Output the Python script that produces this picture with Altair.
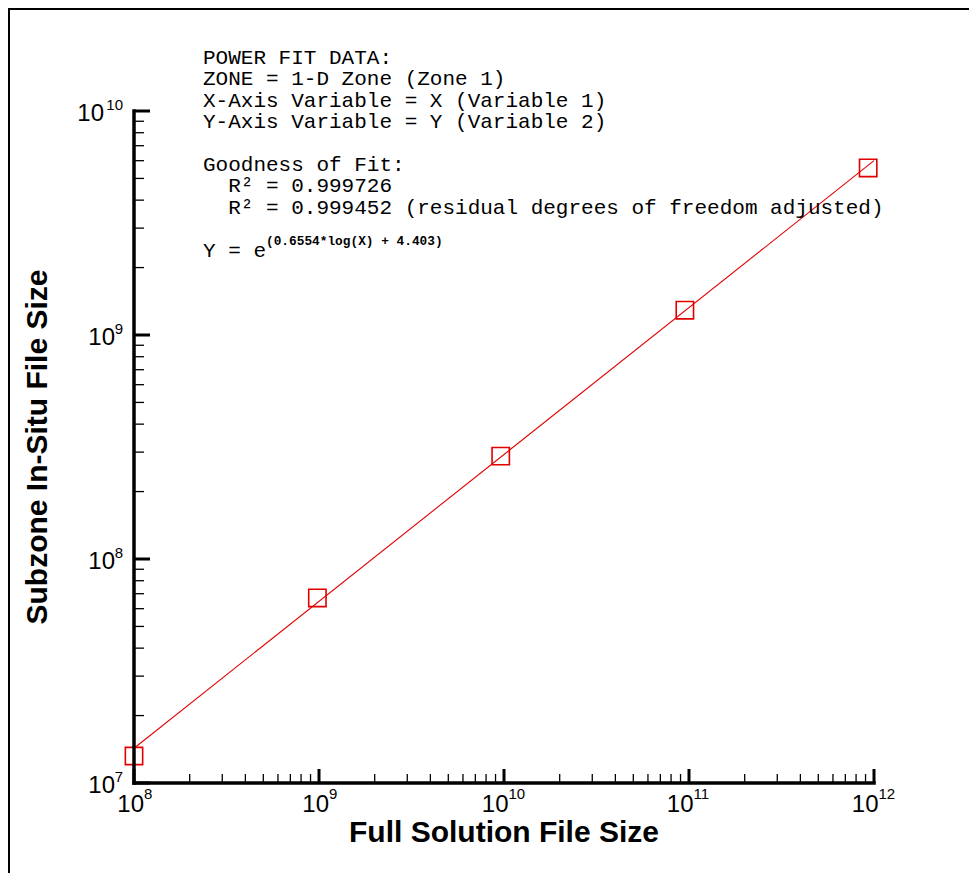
import altair as alt
import pandas as pd

# ---------------- data ----------------
full_size = [1.0e8, 9.8e8, 9.6e9, 9.5e10, 9.3e11]          # X (Full Solution File Size)
subzone_size = [1.32e7, 6.7e7, 2.88e8, 1.29e9, 5.57e9]      # Y (Subzone In-Situ File Size)

fit_x = [1.0e8, 1.0e12]      # power-fit line end points
fit_y = [1.43e7, 6.0e9]

x_major = [1e8, 1e9, 1e10, 1e11, 1e12]
x_exp = ["8", "9", "10", "11", "12"]
y_major = [1e7, 1e8, 1e9, 1e10]
y_exp = ["7", "8", "9", "10"]
minor_mult = [2, 3, 4, 5, 6, 7, 8, 9]
x_decades = [1e8, 1e9, 1e10, 1e11]
y_decades = [1e7, 1e8, 1e9]

header_lines = [
    "POWER FIT DATA:",
    "ZONE = 1-D Zone (Zone 1)",
    "X-Axis Variable = X (Variable 1)",
    "Y-Axis Variable = Y (Variable 2)",
]
goodness_title = "Goodness of Fit:"
r2_lines = [
    "R\u00b2 = 0.999726",
    "R\u00b2 = 0.999452 (residual degrees of freedom adjusted)",
]
equation_base = "Y = e"
fit_exponent = "(0.6554*log(X) + 4.403)"

x_title = "Full Solution File Size"
y_title = "Subzone In-Situ File Size"

# ---------------- layout ----------------
W, H = 740, 672
RED = "#e00000"
SANS = "Liberation Sans"
MONO = "Liberation Mono"
LH = 21.4          # annotation line height
CW = 12.6          # monospace char width at 21px
AX, AY = 69, -47   # annotation anchor (relative to plot origin)

xs = alt.Scale(type="log", domain=[1e8, 1e12], nice=False)
ys = alt.Scale(type="log", domain=[1e7, 1e10], nice=False)
X = alt.X("x:Q", scale=xs, axis=None)
Y = alt.Y("y:Q", scale=ys, axis=None)

pts = pd.DataFrame({"x": full_size, "y": subzone_size})
fit = pd.DataFrame({"x": fit_x, "y": fit_y})
one = pd.DataFrame({"a": [0]})

x_minor = [m * d for d in x_decades for m in minor_mult]
y_minor = [m * d for d in y_decades for m in minor_mult]

xlab = pd.DataFrame({"x": x_major, "exp": x_exp})
ylab = pd.DataFrame({"y": y_major, "exp": y_exp})
xlab1 = xlab[xlab.exp.str.len() == 1]
xlab2 = xlab[xlab.exp.str.len() == 2]
ylab1 = ylab[ylab.exp.str.len() == 1]
ylab2 = ylab[ylab.exp.str.len() == 2]

fit_line = alt.Chart(fit).mark_line(color=RED, strokeWidth=1.1).encode(x=X, y=Y)
squares = alt.Chart(pts).mark_point(
    shape="square", size=300, filled=False, color=RED, strokeWidth=1.6, opacity=1
).encode(x=X, y=Y)

# axis lines
x_axis = alt.Chart(one).mark_rule(color="black", strokeWidth=3.5, strokeCap="square").encode(
    x=alt.value(0), x2=alt.value(W), y=alt.value(H))
y_axis = alt.Chart(one).mark_rule(color="black", strokeWidth=3.5, strokeCap="square").encode(
    y=alt.value(0), y2=alt.value(H), x=alt.value(0))

# ticks (pointing inward)
xt_major = alt.Chart(pd.DataFrame({"x": x_major})).mark_rule(color="black", strokeWidth=3).encode(
    x=X, y=alt.value(H), y2=alt.value(H - 14))
xt_minor = alt.Chart(pd.DataFrame({"x": x_minor})).mark_rule(color="black", strokeWidth=1.3).encode(
    x=X, y=alt.value(H), y2=alt.value(H - 9))
yt_major = alt.Chart(pd.DataFrame({"y": y_major})).mark_rule(color="black", strokeWidth=3).encode(
    y=Y, x=alt.value(0), x2=alt.value(16))
yt_minor = alt.Chart(pd.DataFrame({"y": y_minor})).mark_rule(color="black", strokeWidth=1.3).encode(
    y=Y, x=alt.value(0), x2=alt.value(10))

# tick labels 10^n
def xlabels(df, dx):
    base = alt.Chart(df).mark_text(font=SANS, fontSize=24, align="right", baseline="alphabetic",
                                   dx=dx, color="black").encode(
        x=X, y=alt.value(H + 29), text=alt.value("10"))
    ex = alt.Chart(df).mark_text(font=SANS, fontSize=15, align="left", baseline="alphabetic",
                                 dx=dx, color="black").encode(
        x=X, y=alt.value(H + 16), text="exp:N")
    return [base, ex]

def ylabels(df, dx10):
    base = alt.Chart(df).mark_text(font=SANS, fontSize=24, align="right", baseline="alphabetic",
                                   dx=dx10, dy=10, color="black").encode(
        y=Y, x=alt.value(0), text=alt.value("10"))
    ex = alt.Chart(df).mark_text(font=SANS, fontSize=15, align="right", baseline="alphabetic",
                                 dx=-11, dy=-1, color="black").encode(
        y=Y, x=alt.value(0), text="exp:N")
    return [base, ex]

labels = xlabels(xlab1, 10) + xlabels(xlab2, 4.5) + ylabels(ylab1, -19) + ylabels(ylab2, -30)

# axis titles
xt = alt.Chart(one).mark_text(font=SANS, fontSize=30, fontWeight="bold", align="center",
                              baseline="alphabetic", color="black").encode(
    x=alt.value(W / 2), y=alt.value(H + 59), text=alt.value(x_title))
yt = alt.Chart(one).mark_text(font=SANS, fontSize=30, fontWeight="bold", align="center",
                              baseline="alphabetic", angle=270, color="black").encode(
    x=alt.value(-87), y=alt.value(H / 2), text=alt.value(y_title))

# annotation block
def ann_text(text, x, y):
    return alt.Chart(one).mark_text(font=MONO, fontSize=21, align="left", baseline="alphabetic",
                                    lineHeight=LH, color="black").encode(
        x=alt.value(x), y=alt.value(y), text=alt.value(text))

ann = [
    ann_text(header_lines, AX, AY),
    ann_text(goodness_title, AX, AY + 5 * LH),
    ann_text(r2_lines, AX + 2 * CW, AY + 6 * LH),
    ann_text(equation_base, AX, AY + 9 * LH),
]
ann_exp = alt.Chart(one).mark_text(font=MONO, fontSize=12.8, fontWeight="bold", align="left",
                                   baseline="alphabetic", color="black").encode(
    x=alt.value(AX + 5 * CW), y=alt.value(AY + 9 * LH - 12), text=alt.value(fit_exponent))

# frame (top & left edges)
frame_top = alt.Chart(one).mark_rule(color="black", strokeWidth=2).encode(
    x=alt.value(-126), x2=alt.value(W + 100), y=alt.value(-102))
frame_left = alt.Chart(one).mark_rule(color="black", strokeWidth=2).encode(
    x=alt.value(-125), y=alt.value(-103), y2=alt.value(H + 95))

chart = alt.layer(
    fit_line, squares, x_axis, y_axis, xt_major, xt_minor, yt_major, yt_minor,
    *labels, xt, yt, *ann, ann_exp, frame_top, frame_left
).properties(
    width=W, height=H,
    padding={"left": 126, "top": 103, "right": 95, "bottom": 90},
    autosize=alt.AutoSizeParams(type="none"),
    background="white",
).configure_view(stroke=None)

chart.save("out.html", embed_options={"renderer": "svg", "actions": False})
